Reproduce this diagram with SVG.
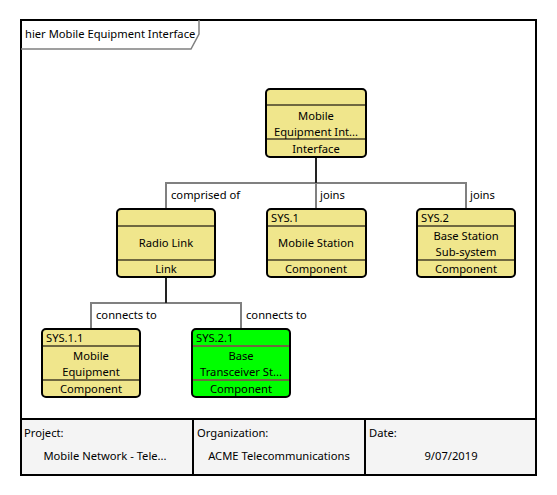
<svg xmlns="http://www.w3.org/2000/svg" width="557" height="495" viewBox="0 0 557 495">
<style>
text{font-family:"Segoe UI","Noto Sans","Open Sans",sans-serif;font-size:11.2px;fill:#000}
.c{text-anchor:middle}
.box{stroke:#000;stroke-width:2}
.y{fill:#F0E68C}
.g{fill:#00FF00}
.div{stroke:#6f6840;stroke-width:2}
.con{fill:none;stroke:#808080;stroke-width:2}
.trunk{fill:none;stroke:#222;stroke-width:2}
</style>
<rect x="0" y="0" width="557" height="495" fill="#fff"/>
<g id="frame">
<rect x="21" y="20" width="515" height="455" fill="#fff" stroke="#000" stroke-width="2"/>
<path d="M21,49 H191 L199,34 V20" fill="none" stroke="#808080" stroke-width="1.5"/>
<text x="25" y="38">hier Mobile Equipment Interface</text>
</g>
<g id="connectors">
<path class="con" d="M166,209 V183 H466 V209"/>
<path class="con" d="M316,183 V209"/>
<path class="trunk" d="M316,157 V183"/>
<path class="con" d="M91,329 V303 H241 V329"/>
<path class="trunk" d="M166,277 V303"/>
<text x="171" y="199">comprised of</text>
<text x="320" y="199">joins</text>
<text x="470" y="199">joins</text>
<text x="96" y="319">connects to</text>
<text x="246" y="319">connects to</text>
</g>
<g id="n-mei">
<rect class="box y" x="266" y="89" width="100" height="68" rx="4"/>
<line class="div" x1="267" y1="105" x2="365" y2="105"/>
<line class="div" x1="267" y1="139" x2="365" y2="139"/>
<text class="c" x="316" y="120">Mobile</text>
<text class="c" x="316" y="136">Equipment Int...</text>
<text class="c" x="316" y="153">Interface</text>
</g>
<g id="n-radio">
<rect class="box y" x="117" y="209" width="98" height="68" rx="4"/>
<line class="div" x1="118" y1="226" x2="214" y2="226"/>
<line class="div" x1="118" y1="260" x2="214" y2="260"/>
<text class="c" x="166" y="247">Radio Link</text>
<text class="c" x="166" y="273">Link</text>
</g>
<g id="n-sys1">
<rect class="box y" x="267" y="209" width="99" height="68" rx="4"/>
<line class="div" x1="268" y1="226" x2="365" y2="226"/>
<line class="div" x1="268" y1="260" x2="365" y2="260"/>
<text x="271" y="222">SYS.1</text>
<text class="c" x="316" y="247">Mobile Station</text>
<text class="c" x="316" y="273">Component</text>
</g>
<g id="n-sys2">
<rect class="box y" x="417" y="209" width="98" height="68" rx="4"/>
<line class="div" x1="418" y1="226" x2="514" y2="226"/>
<line class="div" x1="418" y1="260" x2="514" y2="260"/>
<text x="421" y="222">SYS.2</text>
<text class="c" x="466" y="240">Base Station</text>
<text class="c" x="466" y="256">Sub-system</text>
<text class="c" x="466" y="273">Component</text>
</g>
<g id="n-sys11">
<rect class="box y" x="42" y="329" width="98" height="68" rx="4"/>
<line class="div" x1="43" y1="346" x2="139" y2="346"/>
<line class="div" x1="43" y1="380" x2="139" y2="380"/>
<text x="46" y="342">SYS.1.1</text>
<text class="c" x="91" y="360">Mobile</text>
<text class="c" x="91" y="376">Equipment</text>
<text class="c" x="91" y="393">Component</text>
</g>
<g id="n-sys21">
<rect class="box g" x="192" y="329" width="98" height="68" rx="4"/>
<line class="div" x1="193" y1="346" x2="289" y2="346"/>
<line class="div" x1="193" y1="380" x2="289" y2="380"/>
<text x="196" y="342">SYS.2.1</text>
<text class="c" x="241" y="360">Base</text>
<text class="c" x="241" y="376">Transceiver St...</text>
<text class="c" x="241" y="393">Component</text>
</g>
<g id="footer">
<rect x="21" y="419" width="515" height="56" fill="#F4F4F4" stroke="#000" stroke-width="2"/>
<line x1="193" y1="419" x2="193" y2="475" stroke="#000" stroke-width="2"/>
<line x1="365" y1="419" x2="365" y2="475" stroke="#000" stroke-width="2"/>
<text x="24" y="437">Project:</text>
<text class="c" x="105" y="460">Mobile Network - Tele...</text>
<text x="197" y="437">Organization:</text>
<text class="c" x="279" y="460">ACME Telecommunications</text>
<text x="369" y="437">Date:</text>
<text class="c" x="451" y="460">9/07/2019</text>
</g>
</svg>
